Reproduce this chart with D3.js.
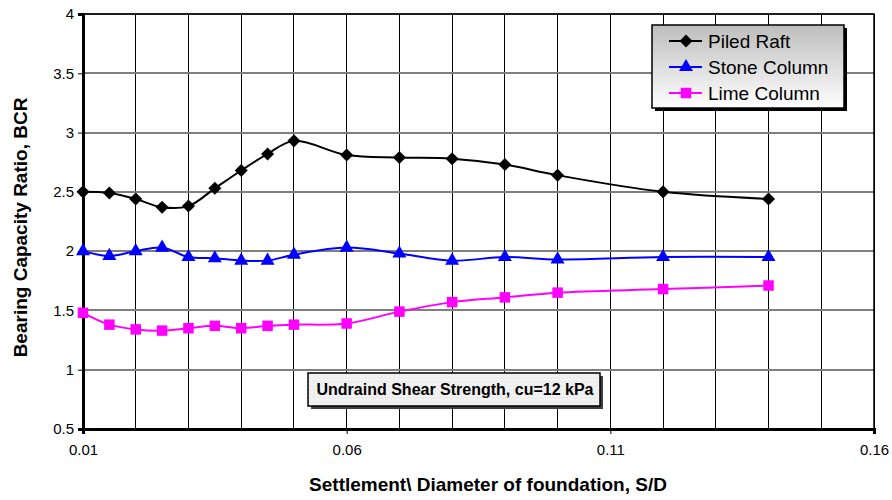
<!DOCTYPE html>
<html><head><meta charset="utf-8">
<script src="https://cdn.jsdelivr.net/npm/d3@7"></script>
<style>body{margin:0;background:#fff}svg{display:block}text{font-family:"Liberation Sans",Arial,sans-serif}</style>
</head><body><svg id="c" width="892" height="500"></svg>
<script>
const sd = [0.01,0.015,0.02,0.025,0.03,0.035,0.04,0.045,0.05,0.06,0.07,0.08,0.09,0.10,0.12,0.14];
const piledRaft   = [2.50,2.49,2.44,2.37,2.38,2.53,2.68,2.82,2.93,2.81,2.79,2.78,2.73,2.64,2.50,2.44];
const stoneColumn = [2.00,1.96,2.00,2.03,1.95,1.94,1.92,1.92,1.97,2.03,1.98,1.92,1.95,1.93,1.95,1.95];
const limeColumn  = [1.48,1.38,1.34,1.33,1.35,1.37,1.35,1.37,1.38,1.39,1.49,1.57,1.61,1.65,1.68,1.71];
const seriesNames = ["Piled Raft","Stone Column","Lime Column"];
const xTicks = [0.01,0.06,0.11,0.16];
const yTicks = [0.5,1,1.5,2,2.5,3,3.5,4];
const note = "Undraind Shear Strength, cu=12 kPa";
const xTitle = "Settlement\\ Diameter of foundation, S/D";
const yTitle = "Bearing Capacity Ratio, BCR";

const diamond = {draw(ctx,size){const r=Math.sqrt(size)/Math.SQRT2;ctx.moveTo(0,-r);ctx.lineTo(r,0);ctx.lineTo(0,r);ctx.lineTo(-r,0);ctx.closePath();}};
const series = [
  {name:seriesNames[0], values:piledRaft, color:"#000000", sym:diamond, size:85},
  {name:seriesNames[1], values:stoneColumn, color:"#0000ff", sym:d3.symbolTriangle, size:85},
  {name:seriesNames[2], values:limeColumn, color:"#ff00ff", sym:d3.symbolSquare, size:110}
];

const svg = d3.select("#c");
const L=83, R=874, T=14, B=429;
const x = d3.scaleLinear().domain([0.01,0.16]).range([L,R]);
const y = d3.scaleLinear().domain([0.5,4]).range([B,T]);

// grid
svg.append("g").selectAll("line").data(d3.range(1,16).map(i=>0.01+i*0.01)).join("line")
  .attr("x1",d=>x(d)).attr("x2",d=>x(d)).attr("y1",T).attr("y2",B)
  .attr("stroke","#000").attr("stroke-width",1).attr("shape-rendering","crispEdges");
svg.append("g").selectAll("line").data(yTicks.slice(1)).join("line")
  .attr("x1",L).attr("x2",R).attr("y1",d=>y(d)).attr("y2",d=>y(d))
  .attr("stroke","#7f7f7f").attr("stroke-width",2).attr("shape-rendering","crispEdges");

// plot border
svg.append("rect").attr("x",L).attr("y",T).attr("width",R-L).attr("height",B-T)
  .attr("fill","none").attr("stroke","#000").attr("stroke-width",1.5);

// axes
const xa = svg.append("g").attr("transform",`translate(0,${B})`)
  .call(d3.axisBottom(x).tickValues(xTicks).tickSize(5).tickPadding(10).tickFormat(d3.format(".2~f")));
const ya = svg.append("g").attr("transform",`translate(${L},0)`)
  .call(d3.axisLeft(y).tickValues(yTicks).tickSize(5).tickPadding(4).tickFormat(d3.format("~g")));
[xa,ya].forEach(a=>{
  a.attr("font-size",15).attr("font-family","Liberation Sans, Arial, sans-serif");
  a.select(".domain").attr("stroke","#000").attr("stroke-width",3);
  a.selectAll(".tick line").attr("stroke","#000").attr("stroke-width",1);
  a.selectAll("text").attr("fill","#000");
});

// lines & markers
const line = d3.line().x((d,i)=>x(sd[i])).y(d=>y(d)).curve(d3.curveCatmullRom.alpha(0.5));
series.forEach(s=>{
  svg.append("path").attr("d",line(s.values)).attr("fill","none")
    .attr("stroke",s.color).attr("stroke-width",2);
  svg.append("g").selectAll("path").data(s.values).join("path")
    .attr("transform",(d,i)=>`translate(${x(sd[i])},${y(d)})`)
    .attr("d",d3.symbol(s.sym,s.size)).attr("fill",s.color);
});

// legend
const defs = svg.append("defs");
const g = defs.append("linearGradient").attr("id","lg").attr("x1",0).attr("x2",0).attr("y1",0).attr("y2",1);
g.append("stop").attr("offset","0%").attr("stop-color","#bdbdbd");
g.append("stop").attr("offset","100%").attr("stop-color","#ffffff");
const lx=652, ly=25, lw=192, lh=83;
svg.append("rect").attr("x",lx+3).attr("y",ly+3).attr("width",lw).attr("height",lh).attr("fill","#000");
svg.append("rect").attr("x",lx).attr("y",ly).attr("width",lw).attr("height",lh)
  .attr("fill","url(#lg)").attr("stroke","#000").attr("stroke-width",1.5);
series.forEach((s,i)=>{
  const yy = ly+16+i*26;
  svg.append("line").attr("x1",669).attr("x2",702).attr("y1",yy).attr("y2",yy)
    .attr("stroke",s.color).attr("stroke-width",2);
  svg.append("path").attr("transform",`translate(686,${yy})`).attr("d",d3.symbol(s.sym,s.size)).attr("fill",s.color);
  svg.append("text").attr("x",708).attr("y",yy+7).attr("font-size",19).text(s.name);
});

// annotation box
const pat = defs.append("pattern").attr("id","pt").attr("width",4).attr("height",4).attr("patternUnits","userSpaceOnUse");
pat.append("rect").attr("width",4).attr("height",4).attr("fill","#f2f2f2");
pat.append("rect").attr("x",1).attr("y",1).attr("width",1).attr("height",1).attr("fill","#dcdcdc");
pat.append("rect").attr("x",3).attr("y",2).attr("width",1).attr("height",1).attr("fill","#e4e4e4");
svg.append("rect").attr("x",311).attr("y",376).attr("width",292).attr("height",33).attr("fill","#404040");
svg.append("rect").attr("x",308).attr("y",373).attr("width",292).attr("height",33)
  .attr("fill","url(#pt)").attr("stroke","#000").attr("stroke-width",1.5);
svg.append("text").attr("x",455).attr("y",395).attr("text-anchor","middle").attr("font-size",16)
  .attr("font-weight","bold").text(note);

// titles
svg.append("text").attr("x",488).attr("y",491).attr("text-anchor","middle").attr("font-size",19)
  .attr("font-weight","bold").text(xTitle);
svg.append("text").attr("transform",`translate(27,${(T+B)/2+6}) rotate(-90)`).attr("text-anchor","middle")
  .attr("font-size",19).attr("font-weight","bold").text(yTitle);
</script></body></html>
